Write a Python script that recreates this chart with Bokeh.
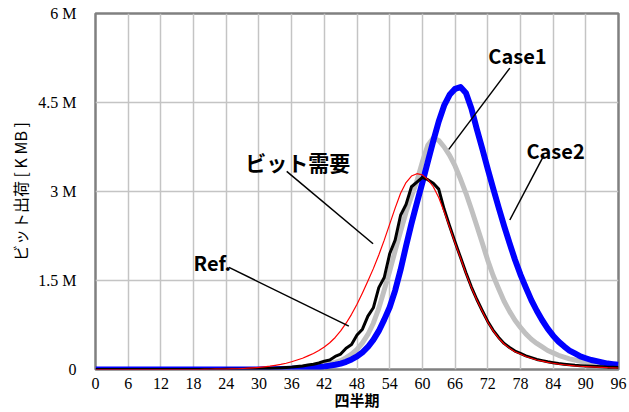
from bokeh.plotting import figure
from bokeh.models import Range1d, FixedTicker, ColumnDataSource
from bokeh.core.properties import value
from bokeh.embed import file_html
from bokeh.resources import INLINE

# Quarter index (四半期)
quarters = list(range(97))

# Bit demand (ビット需要), millions of K MB
demand = [
    0.0, 0.0, 0.0, 0.0, 0.0, 0.0, 0.0, 0.0, 0.0, 0.0,
    0.0, 0.0, 0.0, 0.0, 0.0, 0.0, 0.0, 0.0, 0.0, 0.0,
    0.003, 0.004, 0.005, 0.006, 0.008, 0.010, 0.013, 0.017, 0.022, 0.028,
    0.036, 0.045, 0.056, 0.070, 0.086, 0.105, 0.13, 0.16, 0.19, 0.23,
    0.27, 0.32, 0.38, 0.45, 0.54, 0.65, 0.78, 0.93, 1.10, 1.29,
    1.49, 1.70, 1.93, 2.18, 2.45, 2.72, 2.97, 3.15, 3.26, 3.30,
    3.28, 3.20, 3.08, 2.90, 2.66, 2.40, 2.13, 1.88, 1.62, 1.38,
    1.17, 0.98, 0.80, 0.65, 0.53, 0.43, 0.36, 0.30, 0.26, 0.22,
    0.19, 0.16, 0.14, 0.12, 0.105, 0.09, 0.08, 0.07, 0.06, 0.055,
    0.05, 0.045, 0.04, 0.035, 0.03, 0.028, 0.025,
]

# Reference shipments (Ref.)
ref = [
    0.0, 0.0, 0.0, 0.0, 0.0, 0.0, 0.0, 0.0, 0.0, 0.0,
    0.0, 0.0, 0.0, 0.0, 0.0, 0.0, 0.0, 0.0, 0.0, 0.0,
    0.0, 0.0, 0.0, 0.0, 0.003, 0.004, 0.005, 0.006, 0.008, 0.010,
    0.012, 0.015, 0.018, 0.022, 0.027, 0.033, 0.040, 0.050, 0.060, 0.075,
    0.090, 0.11, 0.14, 0.16, 0.22, 0.26, 0.36, 0.42, 0.58, 0.68,
    0.90, 1.04, 1.38, 1.55, 1.95, 2.18, 2.60, 2.78, 3.08, 3.16,
    3.24, 3.20, 3.14, 3.04, 2.70, 2.42, 2.15, 1.89, 1.63, 1.39,
    1.18, 0.99, 0.81, 0.66, 0.54, 0.44, 0.37, 0.31, 0.27, 0.23,
    0.20, 0.17, 0.15, 0.13, 0.115, 0.10, 0.09, 0.08, 0.07, 0.065,
    0.06, 0.055, 0.05, 0.045, 0.04, 0.04, 0.035,
]

# Case1 shipments
case1 = [
    0.0, 0.0, 0.0, 0.0, 0.0, 0.0, 0.0, 0.0, 0.0, 0.0,
    0.0, 0.0, 0.0, 0.0, 0.0, 0.0, 0.0, 0.0, 0.0, 0.0,
    0.0, 0.0, 0.0, 0.0, 0.0, 0.0, 0.0, 0.0, 0.0, 0.0,
    0.005, 0.007, 0.010, 0.012, 0.015, 0.020, 0.025, 0.032, 0.040, 0.047,
    0.055, 0.067, 0.080, 0.10, 0.12, 0.15, 0.20, 0.26, 0.34, 0.45,
    0.59, 0.78, 1.03, 1.34, 1.66, 2.00, 2.33, 2.65, 2.92, 3.18,
    3.50, 3.78, 3.90, 3.86, 3.75, 3.61, 3.43, 3.21, 2.97, 2.70,
    2.42, 2.13, 1.84, 1.58, 1.36, 1.15, 0.98, 0.83, 0.71, 0.60,
    0.51, 0.44, 0.38, 0.32, 0.28, 0.24, 0.21, 0.18, 0.16, 0.14,
    0.125, 0.11, 0.10, 0.09, 0.08, 0.07, 0.065,
]

# Case2 shipments
case2 = [
    0.0, 0.0, 0.0, 0.0, 0.0, 0.0, 0.0, 0.0, 0.0, 0.0,
    0.0, 0.0, 0.0, 0.0, 0.0, 0.0, 0.0, 0.0, 0.0, 0.0,
    0.0, 0.0, 0.0, 0.0, 0.0, 0.0, 0.0, 0.0, 0.0, 0.0,
    0.002, 0.003, 0.004, 0.005, 0.007, 0.009, 0.012, 0.016, 0.020, 0.025,
    0.030, 0.040, 0.050, 0.065, 0.080, 0.10, 0.13, 0.17, 0.22, 0.29,
    0.38, 0.50, 0.65, 0.84, 1.05, 1.33, 1.68, 2.08, 2.46, 2.81,
    3.15, 3.50, 3.85, 4.18, 4.45, 4.63, 4.73, 4.76, 4.66, 4.40,
    4.05, 3.72, 3.38, 3.05, 2.73, 2.42, 2.13, 1.85, 1.60, 1.38,
    1.17, 0.99, 0.83, 0.69, 0.57, 0.47, 0.39, 0.32, 0.27, 0.22,
    0.19, 0.16, 0.14, 0.12, 0.10, 0.09, 0.08,
]

x_ticks = list(range(0, 97, 6))
y_ticks = [0, 1.5, 3, 4.5, 6]
y_tick_labels = ["0", "1.5 M", "3 M", "4.5 M", "6 M"]

# Callout texts and their leader lines
label_texts = ["Case1", "Case2", "ビット需要", "Ref."]
label_x = [72.1, 79.1, 27.5, 18.0]
label_y = [5.29, 3.69, 3.50, 1.81]
label_sizes = ["20px", "20px", "21px", "20px"]
leader_x0 = [76.05, 82.3, 35.1, 24.5]
leader_y0 = [5.08, 3.61, 3.34, 1.72]
leader_x1 = [64.85, 76.05, 50.95, 46.5]
leader_y1 = [3.71, 2.52, 2.12, 0.73]

p = figure(
    width=629, height=412,
    x_range=Range1d(0, 96), y_range=Range1d(0, 6),
    output_backend="svg", toolbar_location=None,
    min_border_left=95, min_border_right=11,
    min_border_top=13, min_border_bottom=42,
    background_fill_color="white", border_fill_color="white",
)
p.outline_line_color = "#808080"
p.outline_line_width = 2.5

p.xaxis.ticker = FixedTicker(ticks=x_ticks)
p.yaxis.ticker = FixedTicker(ticks=y_ticks)
p.yaxis.major_label_overrides = {t: s for t, s in zip(y_ticks, y_tick_labels)}

for ax in (p.xaxis, p.yaxis):
    ax.axis_line_color = None
    ax.major_tick_line_color = None
    ax.minor_tick_line_color = None
    ax.major_label_text_font = "Liberation Serif"
    ax.major_label_text_font_size = "16px"
    ax.major_label_text_color = "black"
    ax.axis_label_text_color = "black"
    ax.axis_label_text_font = "Noto Sans CJK JP"
    ax.axis_label_text_font_style = "normal"

p.xaxis.axis_label = "四半期"
p.xaxis.axis_label_text_font_size = "15px"
p.xaxis.axis_label_text_font_style = "bold"
p.xaxis.major_label_standoff = 2
p.xaxis.axis_label_standoff = -3

p.yaxis.axis_label = "ビット出荷 [ K MB ]"
p.yaxis.axis_label_text_font_size = "16px"
p.yaxis.major_label_standoff = 13
p.yaxis.axis_label_standoff = 3

p.grid.grid_line_color = "#c4c4c4"
p.grid.grid_line_width = 1.5
p.xgrid.ticker = FixedTicker(ticks=x_ticks)
p.ygrid.ticker = FixedTicker(ticks=y_ticks)

src = ColumnDataSource(dict(q=quarters, demand=demand, ref=ref, case1=case1, case2=case2))

p.line("q", "case1", source=src, line_color="#c0c0c0", line_width=5, line_join="round")
p.line("q", "case2", source=src, line_color="#0000ff", line_width=6, line_join="round")
p.line("q", "ref", source=src, line_color="black", line_width=3, line_join="round")
p.line("q", "demand", source=src, line_color="red", line_width=1.2, line_join="round")

p.segment(leader_x0, leader_y0, leader_x1, leader_y1, line_color="black", line_width=1.5)

lab = ColumnDataSource(dict(x=label_x, y=label_y, text=label_texts, size=label_sizes))
p.text("x", "y", text="text", source=lab,
       text_font=value("Noto Sans CJK JP"), text_font_style="bold",
       text_font_size="size", text_align="left", text_baseline="middle",
       text_color="black")

open("out.html", "w").write(file_html(p, INLINE))
